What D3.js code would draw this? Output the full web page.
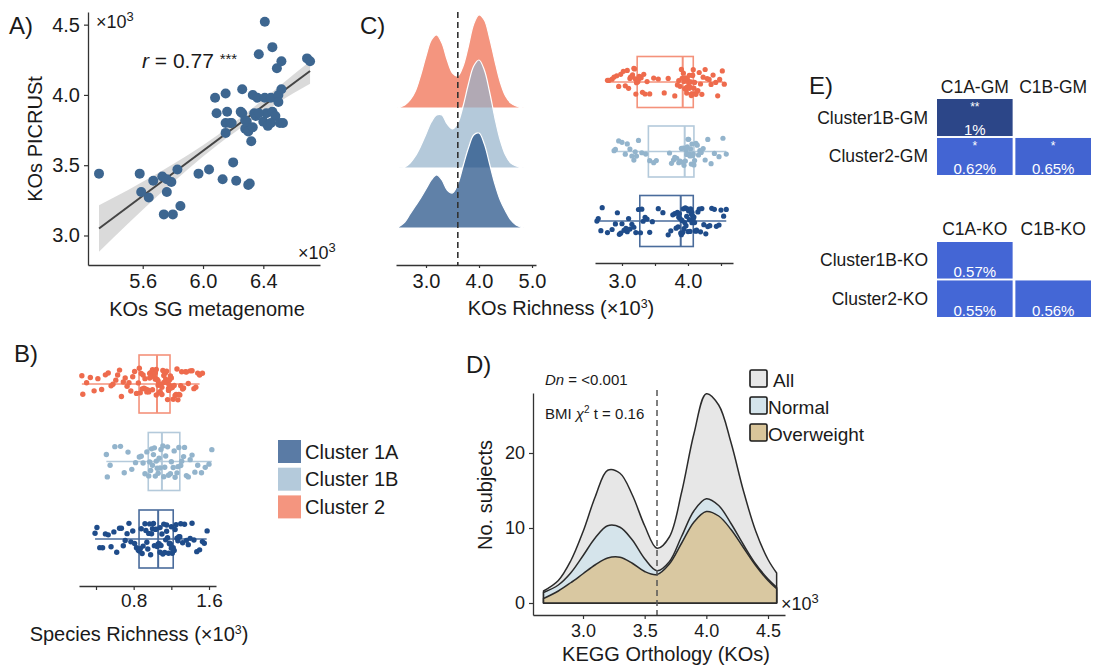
<!DOCTYPE html>
<html><head><meta charset="utf-8">
<script src="https://cdn.jsdelivr.net/npm/d3@7"></script>
<style>html,body{margin:0;padding:0;background:#fff;}svg{display:block;}</style>
</head><body>
<svg id="fig" width="1093" height="672"></svg>
<script>
// ---------------- DATA ----------------
// Panel A: scatter (KOs SG metagenome vs KOs PICRUSt), x10^3
const aSG = [5.31,5.58,5.59,5.64,5.67,5.73,5.74,5.76,5.76,5.79,5.80,5.83,5.85,5.97,6.04,6.08,6.09,6.13,6.15,6.16,6.15,6.15,6.18,6.20,6.19,6.22,6.26,6.26,6.28,6.28,6.29,6.30,6.30,6.31,6.32,6.33,6.35,6.36,6.37,6.40,6.41,6.41,6.42,6.43,6.45,6.46,6.46,6.48,6.45,6.49,6.50,6.50,6.51,6.52,6.52,6.53,6.69,6.71,6.34,6.37,6.25,6.33];
const aPIC = [3.44,3.44,3.31,3.27,3.39,3.42,3.15,3.40,3.31,3.38,3.15,3.47,3.21,3.44,3.47,3.98,3.87,3.40,4.01,3.88,3.80,3.73,3.80,3.52,3.80,3.39,4.04,3.87,3.82,3.76,3.81,3.74,3.36,3.37,3.67,4.00,3.85,3.98,4.29,3.81,4.52,3.98,3.87,3.78,3.98,4.34,3.88,3.85,3.80,4.19,4.00,3.95,3.80,4.24,4.04,3.80,4.26,4.24,3.87,3.87,3.88,3.77];
const aFitX = [5.31, 6.71];
const aFitY = [3.05, 4.17];
const aBandX  = [5.31, 5.5, 5.7, 5.9, 6.1, 6.3, 6.5, 6.71];
const aBandLo = [2.885,3.082,3.282,3.472,3.647,3.802,3.947,4.08];
const aBandHi = [3.215,3.322,3.442,3.572,3.717,3.882,4.057,4.24];
const aYTicks = [3.0, 3.5, 4.0, 4.5];
const aXTicks = [5.6, 6.0, 6.4];

// Clusters
const clusters = ["Cluster 1A", "Cluster 1B", "Cluster 2"];
const clusterOrderTopDown = ["Cluster 2", "Cluster 1B", "Cluster 1A"];

// Panel B: species richness (x10^3)
const bVals = {
  "Cluster 2": [0.25,0.26,0.30,0.34,0.38,0.42,0.46,0.50,0.53,0.56,0.58,0.61,0.63,0.65,0.67,0.69,0.71,0.73,0.75,0.77,0.79,0.81,0.83,0.85,
    0.86,0.87,0.88,0.89,0.90,0.91,0.92,0.93,0.94,0.95,0.96,0.97,0.97,0.98,0.99,1.00,1.00,1.01,1.02,1.02,1.03,1.03,1.04,1.04,
    1.05,1.06,1.06,1.07,1.08,1.08,1.09,1.10,1.10,1.11,1.12,1.12,1.13,1.14,1.14,1.15,1.16,1.16,1.17,1.17,1.18,1.18,1.19,1.19,
    1.20,1.21,1.22,1.23,1.24,1.25,1.26,1.27,1.28,1.29,1.30,1.31,1.32,1.33,1.35,1.36,1.38,1.40,1.42,1.44,1.46,1.48,1.50,1.53],
  "Cluster 1B": [0.51,0.52,0.55,0.60,0.66,0.70,0.74,0.78,0.82,0.86,0.88,0.90,0.92,0.94,
    0.96,0.97,0.98,0.99,1.00,1.01,1.02,1.03,1.04,1.05,1.06,1.07,1.08,1.09,
    1.11,1.12,1.13,1.14,1.16,1.17,1.19,1.20,1.22,1.23,1.24,1.26,1.27,1.28,
    1.30,1.31,1.33,1.34,1.36,1.38,1.40,1.42,1.45,1.48,1.52,1.56,1.60,1.63],
  "Cluster 1A": [0.39,0.41,0.44,0.47,0.50,0.53,0.56,0.59,0.62,0.65,0.67,0.69,0.71,0.73,0.75,0.77,0.79,0.81,0.83,0.85,
    0.86,0.87,0.88,0.89,0.90,0.92,0.93,0.94,0.95,0.96,0.97,0.98,0.99,1.00,1.01,1.02,1.03,1.04,1.05,1.06,
    1.07,1.08,1.08,1.09,1.10,1.11,1.12,1.13,1.14,1.15,1.15,1.16,1.17,1.18,1.18,1.19,1.20,1.20,1.21,1.22,
    1.23,1.24,1.25,1.26,1.27,1.28,1.29,1.30,1.32,1.34,1.36,1.38,1.40,1.42,1.44,1.47,1.50,1.53,1.55,1.58]
};
// box stats [whiskerLo, q1, median, q3, whiskerHi]
const bStats = {
  "Cluster 2":  [0.25, 0.857, 1.048, 1.186, 1.50],
  "Cluster 1B": [0.51, 0.955, 1.10, 1.29, 1.63],
  "Cluster 1A": [0.39, 0.857, 1.06, 1.22, 1.575]
};
const bTicks = [0.4, 0.8, 1.2, 1.6];
const bTickLabels = ["", "0.8", "", "1.6"];

// Panel C: ridge densities of KOs richness (x10^3)
const ridgeX = [2.45,2.6,2.7,2.8,2.9,3.0,3.1,3.2,3.3,3.4,3.5,3.6,3.7,3.8,3.9,4.0,4.1,4.2,4.3,4.4,4.5,4.6,4.7,4.85];
const ridgeDens = {
  "Cluster 2":  [0.0,0.03,0.08,0.17,0.33,0.52,0.68,0.73,0.65,0.48,0.35,0.32,0.42,0.62,0.84,0.93,0.88,0.70,0.47,0.26,0.12,0.05,0.02,0.0],
  "Cluster 1B": [0.0,0.01,0.05,0.12,0.22,0.34,0.46,0.53,0.53,0.44,0.39,0.45,0.62,0.84,1.02,1.08,0.98,0.76,0.50,0.28,0.13,0.05,0.02,0.0],
  "Cluster 1A": [0.0,0.06,0.14,0.22,0.30,0.39,0.48,0.53,0.48,0.38,0.35,0.44,0.62,0.80,0.93,0.95,0.84,0.64,0.44,0.28,0.17,0.08,0.03,0.0]
};
const cRidgeTicks = [3.0, 4.0, 5.0];
const cCutoff = 3.6;
const cVals = {
  "Cluster 2": [2.78,2.80,2.85,2.88,2.92,2.95,2.98,3.02,3.05,3.08,3.10,3.12,3.13,3.15,3.16,3.18,3.19,3.20,3.21,3.22,
    3.24,3.25,3.26,3.28,3.29,3.31,3.33,3.35,3.38,3.42,3.48,3.55,3.64,3.70,3.80,3.84,3.86,3.88,3.90,3.91,
    3.93,3.94,3.95,3.96,3.97,3.98,3.98,3.99,4.00,4.01,4.02,4.02,4.03,4.04,4.05,4.05,4.06,4.07,4.07,4.08,
    4.09,4.10,4.11,4.12,4.14,4.15,4.17,4.19,4.21,4.23,4.26,4.29,4.32,4.35,4.38,4.42,4.45,4.48,4.52,4.55],
  "Cluster 1B": [2.88,2.90,2.95,3.00,3.05,3.08,3.12,3.15,3.18,3.20,3.22,3.25,3.30,3.36,
    3.42,3.48,3.52,3.72,3.75,3.78,3.80,3.83,3.86,3.88,3.90,3.92,3.93,3.94,
    3.96,3.97,3.98,3.99,4.00,4.01,4.02,4.03,4.04,4.05,4.06,4.07,4.08,4.09,
    4.10,4.12,4.14,4.16,4.18,4.20,4.23,4.26,4.30,4.35,4.40,4.47,4.53,4.58],
  "Cluster 1A": [2.62,2.64,2.68,2.70,2.78,2.85,2.90,2.93,2.96,2.98,3.00,3.03,3.06,3.08,3.10,3.12,3.15,3.18,3.21,3.25,
    3.28,3.30,3.32,3.35,3.38,3.42,3.46,3.55,3.62,3.70,3.74,3.77,3.80,3.82,3.84,3.85,3.86,3.87,3.88,3.89,
    3.90,3.91,3.92,3.93,3.94,3.95,3.96,3.97,3.98,3.99,4.00,4.01,4.02,4.03,4.04,4.05,4.06,4.06,4.07,4.08,
    4.09,4.10,4.11,4.12,4.13,4.15,4.17,4.19,4.21,4.24,4.27,4.30,4.33,4.36,4.40,4.43,4.47,4.50,4.54,4.58]
};
const cStats = {
  "Cluster 2":  [2.77, 3.23, 3.92, 4.08, 4.53],
  "Cluster 1B": [2.90, 3.40, 3.95, 4.09, 4.58],
  "Cluster 1A": [2.62, 3.27, 3.89, 4.08, 4.58]
};
const cBoxTicks = [3.0, 3.5, 4.0, 4.5];
const cBoxTickLabels = ["3.0", "", "4.0", ""];

// Panel D: densities (No. subjects) by BMI group
const dX = [2.68,2.8,2.9,3.0,3.1,3.2,3.3,3.4,3.5,3.6,3.7,3.8,3.9,4.0,4.1,4.2,4.3,4.4,4.5,4.57];
const dAll        = [1.6,3.0,5.6,9.5,14.2,17.7,17.3,14.4,10.3,7.3,8.8,14.8,22.6,27.9,26.4,21.4,15.0,9.6,5.8,4.0];
const dNormal     = [1.4,2.4,4.0,6.3,8.7,10.3,10.1,8.4,5.9,4.3,5.5,8.9,12.3,13.9,13.0,10.6,7.8,5.2,3.2,2.1];
const dOverweight = [0.6,1.6,2.7,3.9,5.1,6.0,6.1,5.3,4.2,3.8,5.2,8.0,10.8,12.2,11.6,9.8,7.4,5.0,3.0,1.9];
const dGroups = ["All", "Normal", "Overweight"];
const dYTicks = [0, 10, 20];
const dXTicks = [3.0, 3.5, 4.0, 4.5];
const dCutoff = 3.6;

// Panel E: heatmaps
const gmCols = ["C1A-GM", "C1B-GM"];
const gmRows = ["Cluster1B-GM", "Cluster2-GM"];
const gmValues = [[1.00, null], [0.62, 0.65]];
const gmSig = [["**", ""], ["*", "*"]];
const koCols = ["C1A-KO", "C1B-KO"];
const koRows = ["Cluster1B-KO", "Cluster2-KO"];
const koValues = [[0.57, null], [0.55, 0.56]];
const koSig = [["", ""], ["", ""]];

// ---------------- STYLE ----------------
const FONT = "'Liberation Sans', Arial, Helvetica, sans-serif";
const TXT = "#1a1a1a";
const AX = "#333";
const pointCol = {"Cluster 2": "#ee6b4d", "Cluster 1B": "#93b4cc", "Cluster 1A": "#1f4c8a"};
const boxCol   = {"Cluster 2": "#f4927b", "Cluster 1B": "#b4cadb", "Cluster 1A": "#4a6c9c"};
const ridgeCol = {"Cluster 2": "#f4957f", "Cluster 1B": "#94b2ca", "Cluster 1A": "#1d4b83"};
const ridgeOp  = {"Cluster 2": 1, "Cluster 1B": 0.7, "Cluster 1A": 0.7};
const legendCol= {"Cluster 1A": "#5a7ba5", "Cluster 1B": "#b4cadb", "Cluster 2": "#f4957f"};
const dFill = {"All": "#e7e7e7", "Normal": "#d4e4eb", "Overweight": "#d9c59a"};

const svg = d3.select("#fig").style("font-family", FONT);

function styleAxis(g, fs) {
  g.selectAll("path.domain").attr("stroke", AX).attr("stroke-width", 1.3);
  g.selectAll(".tick line").attr("stroke", AX).attr("stroke-width", 1.2);
  g.selectAll(".tick text").attr("fill", TXT).style("font-size", fs + "px").style("font-family", FONT);
}
function txt(x, y, s, fs, anchor) {
  return svg.append("text").attr("x", x).attr("y", y).attr("fill", TXT)
    .style("font-size", fs + "px").attr("text-anchor", anchor || "start").text(s);
}
function times103(x, y, fs, anchor) {
  const t = svg.append("text").attr("x", x).attr("y", y).attr("fill", TXT)
    .style("font-size", fs + "px").attr("text-anchor", anchor || "start");
  t.append("tspan").text("×10");
  t.append("tspan").attr("dy", -fs * 0.4).style("font-size", (fs * 0.72) + "px").text("3");
  return t;
}
function sup3Title(x, y, s, fs) {
  const t = txt(x, y, s + " (×10", fs, "middle");
  t.append("tspan").attr("dy", -fs * 0.35).style("font-size", (fs * 0.62) + "px").text("3");
  t.append("tspan").attr("dy", fs * 0.35).text(")");
  return t;
}
function rng(seed) {
  let s = seed >>> 0;
  return () => { s = (Math.imul(s, 1664525) + 1013904223) >>> 0; return s / 4294967296; };
}

// ---------------- PANEL A ----------------
{
  const x = d3.scaleLinear().domain([5.237, 6.776]).range([88, 320]);
  const y = d3.scaleLinear().domain([2.79, 4.59]).range([265, 12]);
  const band = d3.area().x((d, i) => x(aBandX[i])).y0((d, i) => y(aBandLo[i])).y1((d, i) => y(aBandHi[i])).curve(d3.curveMonotoneX);
  svg.append("path").datum(aBandX).attr("d", band).attr("fill", "#d3d3d3").attr("opacity", 0.85);
  svg.append("line").attr("x1", x(aFitX[0])).attr("y1", y(aFitY[0])).attr("x2", x(aFitX[1])).attr("y2", y(aFitY[1]))
    .attr("stroke", "#454545").attr("stroke-width", 2);
  svg.append("g").selectAll("circle").data(aSG).join("circle")
    .attr("cx", d => x(d)).attr("cy", (d, i) => y(aPIC[i])).attr("r", 5).attr("fill", "#3d6690");
  const gy = svg.append("g").attr("transform", "translate(88,0)")
    .call(d3.axisLeft(y).tickValues(aYTicks).tickFormat(d3.format(".1f")).tickSize(4).tickSizeOuter(0).tickPadding(4));
  styleAxis(gy, 20);
  const gx = svg.append("g").attr("transform", "translate(0,265)")
    .call(d3.axisBottom(x).tickValues(aXTicks).tickFormat(d3.format(".1f")).tickSize(4).tickSizeOuter(0).tickPadding(5));
  styleAxis(gx, 20);
  txt(9, 34, "A)", 24);
  times103(96, 28, 18);
  times103(298, 259, 18);
  const r = svg.append("text").attr("x", 142).attr("y", 68).attr("fill", TXT).style("font-size", "21px");
  r.append("tspan").style("font-style", "italic").text("r");
  r.append("tspan").text(" = 0.77 ");
  r.append("tspan").attr("dy", -4).style("font-size", "15px").text("***");
  txt(207, 316, "KOs SG metagenome", 20, "middle");
  txt(0, 0, "KOs PICRUSt", 20, "middle").attr("transform", "translate(42,139) rotate(-90)");
}

// ---------------- PANEL B ----------------
{
  const x = d3.scaleLinear().domain([0.2195, 1.6743]).range([79, 216]);
  const yc = d3.scalePoint().domain(clusterOrderTopDown).range([384, 539]);
  const bh = 58, jit = 16;
  clusterOrderTopDown.forEach((c, ci) => {
    const s = bStats[c], cy = yc(c), col = boxCol[c];
    const g = svg.append("g");
    g.append("line").attr("x1", x(s[0])).attr("x2", x(s[4])).attr("y1", cy).attr("y2", cy).attr("stroke", col).attr("stroke-width", 1.4);
    g.append("rect").attr("x", x(s[1])).attr("y", cy - bh / 2).attr("width", x(s[3]) - x(s[1])).attr("height", bh)
      .attr("fill", "none").attr("stroke", col).attr("stroke-width", 1.6);
    g.append("line").attr("x1", x(s[2])).attr("x2", x(s[2])).attr("y1", cy - bh / 2).attr("y2", cy + bh / 2).attr("stroke", col).attr("stroke-width", 2);
    const rnd = rng(17 + ci * 101);
    g.selectAll("circle").data(bVals[c]).join("circle")
      .attr("cx", d => x(d)).attr("cy", () => cy + (rnd() - 0.5) * 2 * jit).attr("r", 2.7).attr("fill", pointCol[c]);
  });
  const gx = svg.append("g").attr("transform", "translate(0,586)")
    .call(d3.axisBottom(x).tickValues(bTicks).tickFormat((d, i) => bTickLabels[i]).tickSize(4).tickSizeOuter(0).tickPadding(4));
  styleAxis(gx, 19);
  txt(14, 362, "B)", 24);
  sup3Title(139, 641, "Species Richness", 20);
  // legend
  clusters.forEach((c, i) => {
    const yy = 440 + i * 27.7;
    svg.append("rect").attr("x", 278).attr("y", yy).attr("width", 23).attr("height", 23).attr("fill", legendCol[c]);
    txt(305, yy + 18.5, c, 20);
  });
}

// ---------------- PANEL C ----------------
{
  const x = d3.scaleLinear().domain([2.434, 5.075]).range([396, 536]);
  const base = d3.scalePoint().domain(clusterOrderTopDown).range([108, 228]);
  const h = d3.scaleLinear().domain([0, 1]).range([0, 100]);
  clusterOrderTopDown.forEach(c => {
    const b = base(c);
    const area = d3.area().x((d, i) => x(ridgeX[i])).y0(b).y1(d => Math.min(b, b - h(d))).curve(d3.curveCatmullRom.alpha(0.5));
    svg.append("path").datum(ridgeDens[c]).attr("d", area).attr("fill", ridgeCol[c]).attr("fill-opacity", ridgeOp[c])
      .attr("stroke", "#fff").attr("stroke-width", 1.2);
  });
  svg.append("line").attr("x1", x(cCutoff)).attr("x2", x(cCutoff)).attr("y1", 12).attr("y2", 265)
    .attr("stroke", "#333").attr("stroke-width", 1.6).attr("stroke-dasharray", "6,4");
  const gx = svg.append("g").attr("transform", "translate(0,265)")
    .call(d3.axisBottom(x).tickValues(cRidgeTicks).tickFormat(d3.format(".1f")).tickSize(3).tickSizeOuter(0).tickPadding(6));
  styleAxis(gx, 20);

  const xb = d3.scaleLinear().domain([2.591, 4.682]).range([595, 733]);
  const yc = d3.scalePoint().domain(clusterOrderTopDown).range([82, 221]);
  const bh = 51, jit = 14;
  clusterOrderTopDown.forEach((c, ci) => {
    const s = cStats[c], cy = yc(c), col = boxCol[c];
    const g = svg.append("g");
    g.append("line").attr("x1", xb(s[0])).attr("x2", xb(s[4])).attr("y1", cy).attr("y2", cy).attr("stroke", col).attr("stroke-width", 1.4);
    g.append("rect").attr("x", xb(s[1])).attr("y", cy - bh / 2).attr("width", xb(s[3]) - xb(s[1])).attr("height", bh)
      .attr("fill", "none").attr("stroke", col).attr("stroke-width", 1.6);
    g.append("line").attr("x1", xb(s[2])).attr("x2", xb(s[2])).attr("y1", cy - bh / 2).attr("y2", cy + bh / 2).attr("stroke", col).attr("stroke-width", 2);
    const rnd = rng(531 + ci * 77);
    g.selectAll("circle").data(cVals[c]).join("circle")
      .attr("cx", d => xb(d)).attr("cy", () => cy + (rnd() - 0.5) * 2 * jit).attr("r", 2.6).attr("fill", pointCol[c]);
  });
  const gx2 = svg.append("g").attr("transform", "translate(0,263)")
    .call(d3.axisBottom(xb).tickValues(cBoxTicks).tickFormat((d, i) => cBoxTickLabels[i]).tickSize(3).tickSizeOuter(0).tickPadding(8));
  styleAxis(gx2, 20);
  txt(360, 34, "C)", 24);
  sup3Title(561, 315, "KOs Richness", 20);
}

// ---------------- PANEL D ----------------
{
  const x = d3.scaleLinear().domain([2.5946, 4.6378]).range([533, 785]);
  const y = d3.scaleLinear().domain([-1.6, 28]).range([615, 393]);
  const series = {"All": dAll, "Normal": dNormal, "Overweight": dOverweight};
  dGroups.forEach(gname => {
    const area = d3.area().x((d, i) => x(dX[i])).y0(y(0)).y1(d => y(d)).curve(d3.curveCatmullRom.alpha(0.5));
    svg.append("path").datum(series[gname]).attr("d", area)
      .attr("fill", dFill[gname]).attr("fill-opacity", gname === "All" ? 1 : 0.92)
      .attr("stroke", "#2b2b2b").attr("stroke-width", 1.5).attr("stroke-linejoin", "round");
  });
  svg.append("line").attr("x1", x(dCutoff)).attr("x2", x(dCutoff)).attr("y1", 390).attr("y2", 615)
    .attr("stroke", "#555").attr("stroke-width", 1.5).attr("stroke-dasharray", "6,4");
  const gy = svg.append("g").attr("transform", "translate(533,0)")
    .call(d3.axisLeft(y).tickValues(dYTicks).tickSize(4).tickSizeOuter(0).tickPadding(4));
  styleAxis(gy, 18);
  const gx = svg.append("g").attr("transform", "translate(0,615)")
    .call(d3.axisBottom(x).tickValues(dXTicks).tickFormat(d3.format(".1f")).tickSize(4).tickSizeOuter(0).tickPadding(5));
  styleAxis(gx, 18);
  txt(466, 373, "D)", 24);
  const dn = svg.append("text").attr("x", 545).attr("y", 385).attr("fill", TXT).style("font-size", "15px");
  dn.append("tspan").style("font-style", "italic").text("Dn");
  dn.append("tspan").text(" = <0.001");
  const bmi = svg.append("text").attr("x", 545).attr("y", 419).attr("fill", TXT).style("font-size", "15px");
  bmi.append("tspan").text("BMI ");
  bmi.append("tspan").style("font-style", "italic").text("χ");
  bmi.append("tspan").attr("dy", -6).style("font-size", "10px").text("2");
  bmi.append("tspan").attr("dy", 6).text(" t = 0.16");
  times103(781, 610, 18);
  txt(666, 661, "KEGG Orthology (KOs)", 20, "middle");
  txt(0, 0, "No. subjects", 20, "middle").attr("transform", "translate(492,495) rotate(-90)");
  const ly = [370, 397, 424];
  dGroups.forEach((gname, i) => {
    svg.append("rect").attr("x", 750).attr("y", ly[i]).attr("width", 17).attr("height", 17).attr("rx", 1.5)
      .attr("fill", dFill[gname]).attr("stroke", "#1a1a1a").attr("stroke-width", 1.6);
    txt(i === 0 ? 773 : 768, ly[i] + 16.5, gname, 19);
  });
}

// ---------------- PANEL E ----------------
{
  const color = d3.scaleLinear().domain([0.55, 0.7, 1.0]).range(["#4467d6", "#4163cf", "#2c4688"]);
  function heat(rows, cols, vals, sig, y0, y1, headerY) {
    const xs = d3.scaleBand().domain(cols).range([937, 1091]).paddingInner(0.035);
    const ys = d3.scaleBand().domain(rows).range([y0, y1]).paddingInner(0.05);
    cols.forEach(c => txt(xs(c) + xs.bandwidth() / 2, headerY, c, 17.5, "middle"));
    rows.forEach(r => txt(928, ys(r) + ys.bandwidth() / 2 + 6, r, 17.5, "end"));
    rows.forEach((r, ri) => cols.forEach((c, cj) => {
      const v = vals[ri][cj];
      if (v == null) return;
      svg.append("rect").attr("x", xs(c)).attr("y", ys(r)).attr("width", xs.bandwidth()).attr("height", ys.bandwidth()).attr("fill", color(v));
      const cx = xs(c) + xs.bandwidth() / 2;
      if (sig[ri][cj]) svg.append("text").attr("x", cx).attr("y", ys(r) + 12).attr("text-anchor", "middle")
        .attr("fill", "#fff").style("font-size", "12px").text(sig[ri][cj]);
      svg.append("text").attr("x", cx).attr("y", ys(r) + ys.bandwidth() - 1.5).attr("text-anchor", "middle")
        .attr("fill", "#fff").style("font-size", "15px").text(v === 1 ? "1%" : v.toFixed(2) + "%");
    }));
  }
  txt(809, 94, "E)", 24);
  heat(gmRows, gmCols, gmValues, gmSig, 99, 175, 93);
  heat(koRows, koCols, koValues, koSig, 242, 317, 235);
}
</script>
</body></html>
